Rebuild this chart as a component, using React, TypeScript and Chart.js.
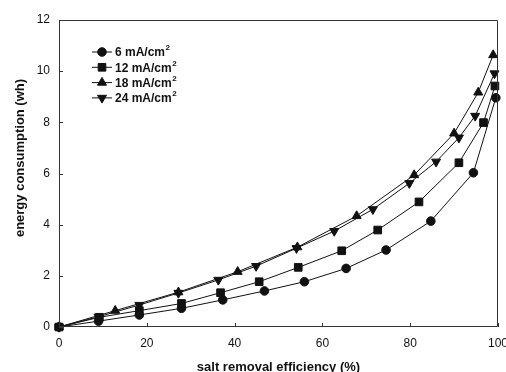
import { useEffect, useRef } from "react";
import { Chart, registerables } from "chart.js";
import { drawPoint } from "chart.js/helpers";

Chart.register(...registerables);

// Salt removal efficiency (%) and energy consumption (wh) per current density
const efficiency6 = [0, 9, 18.3, 27.9, 37.3, 46.8, 55.9, 65.4, 74.5, 84.7, 94.4, 99.5];
const energy6 = [0, 0.23, 0.47, 0.73, 1.06, 1.41, 1.77, 2.29, 3.01, 4.14, 6.03, 8.96];

const efficiency12 = [0, 9.2, 18.3, 27.9, 36.8, 45.6, 54.5, 64.4, 72.6, 82.0, 91.1, 96.7, 99.3];
const energy12 = [0, 0.38, 0.64, 0.92, 1.34, 1.77, 2.33, 2.98, 3.79, 4.89, 6.42, 7.99, 9.42];

const efficiency18 = [0, 12.8, 27.2, 40.7, 54.3, 67.8, 80.9, 90.0, 95.5, 98.9];
const energy18 = [0, 0.64, 1.36, 2.16, 3.12, 4.34, 5.94, 7.57, 9.17, 10.63];

const efficiency24 = [0, 9, 18.3, 27.2, 36.3, 44.9, 54.1, 62.7, 71.5, 79.8, 85.9, 91.1, 94.8, 99.2];
const energy24 = [0, 0.4, 0.86, 1.33, 1.84, 2.38, 3.08, 3.75, 4.6, 5.62, 6.46, 7.4, 8.25, 9.91];

const seriesLabels = ["6 mA/cm", "12 mA/cm", "18 mA/cm", "24 mA/cm"];
const xTicks = [0, 20, 40, 60, 80, 100];
const yTicks = [0, 2, 4, 6, 8, 10, 12];

const FONT = 'Arial, "Liberation Sans", Helvetica, sans-serif';
const INK = "#111";

const pairs = (xs: number[], ys: number[]) => xs.map((x, i) => ({ x, y: ys[i] }));

const markerStyles = [
  { pointStyle: "circle", radius: 4.3, rotation: 0 },
  { pointStyle: "rect", radius: 5.4, rotation: 0 },
  { pointStyle: "triangle", radius: 5.2, rotation: 0 },
  { pointStyle: "triangle", radius: 5.2, rotation: 180 },
];

// Frame, inward ticks, inset legend and the vertical axis title
const decorPlugin = {
  id: "decor",
  afterDraw(chart: any) {
    const { ctx, chartArea } = chart;
    const { left, right, top, bottom } = chartArea;
    const xs = chart.scales.x;
    const ys = chart.scales.y;
    ctx.save();
    ctx.strokeStyle = "#333";
    ctx.lineWidth = 1;
    ctx.beginPath();
    ctx.moveTo(left + 0.5, top + 0.5);
    ctx.lineTo(right - 0.5, top + 0.5);
    ctx.lineTo(right - 0.5, bottom - 0.5);
    ctx.lineTo(left + 0.5, bottom - 0.5);
    ctx.closePath();
    ctx.stroke();

    ctx.beginPath();
    xTicks.forEach((v) => {
      const px = Math.round(xs.getPixelForValue(v)) + 0.5;
      ctx.moveTo(px, bottom);
      ctx.lineTo(px, bottom - 4);
    });
    yTicks.forEach((v) => {
      const py = Math.round(ys.getPixelForValue(v)) + 0.5;
      ctx.moveTo(left, py);
      ctx.lineTo(left + 4, py);
    });
    ctx.stroke();

    // legend
    const lx = left + 33;
    const ly = top + 32;
    const rowH = 15.3;
    chart.data.datasets.forEach((ds: any, i: number) => {
      const y = ly + i * rowH;
      ctx.strokeStyle = INK;
      ctx.fillStyle = INK;
      ctx.lineWidth = 1;
      ctx.beginPath();
      ctx.moveTo(lx, y);
      ctx.lineTo(lx + 20, y);
      ctx.stroke();
      const m = markerStyles[i];
      drawPoint(ctx, { pointStyle: m.pointStyle, radius: m.radius, rotation: m.rotation, borderWidth: 1 }, lx + 10, y);
      ctx.font = `bold 12px ${FONT}`;
      ctx.textBaseline = "middle";
      ctx.textAlign = "left";
      ctx.fillText(ds.label, lx + 23, y + 1);
      const w = ctx.measureText(ds.label).width;
      ctx.font = `bold 8px ${FONT}`;
      ctx.fillText("2", lx + 23 + w + 0.5, y - 4);
    });

    // y axis title
    ctx.translate(20.5, 158);
    ctx.rotate(-Math.PI / 2);
    ctx.font = `bold 13px ${FONT}`;
    ctx.fillStyle = INK;
    ctx.textAlign = "center";
    ctx.textBaseline = "middle";
    ctx.fillText("energy consumption (wh)", 0, 0);
    ctx.restore();
  },
};

export default function App() {
  const canvasRef = useRef<HTMLCanvasElement | null>(null);

  useEffect(() => {
    const canvas = canvasRef.current;
    if (!canvas) return;
    const sets = [
      pairs(efficiency6, energy6),
      pairs(efficiency12, energy12),
      pairs(efficiency18, energy18),
      pairs(efficiency24, energy24),
    ];
    const chart = new Chart(canvas, {
      type: "line",
      data: {
        datasets: sets.map((data, i) => ({
          label: seriesLabels[i],
          data,
          borderColor: INK,
          backgroundColor: INK,
          borderWidth: 1,
          tension: 0,
          pointStyle: markerStyles[i].pointStyle as any,
          pointRadius: markerStyles[i].radius,
          pointRotation: markerStyles[i].rotation,
          pointBackgroundColor: INK,
          pointBorderColor: INK,
          pointBorderWidth: 1,
          clip: false as any,
        })),
      },
      options: {
        animation: false,
        responsive: false,
        devicePixelRatio: 1,
        layout: { padding: { top: 20, right: 8, left: 0, bottom: 0 } },
        plugins: {
          legend: { display: false },
          tooltip: { enabled: false },
        },
        scales: {
          x: {
            type: "linear",
            min: 0,
            max: 100,
            afterBuildTicks: (s: any) => {
              s.ticks = xTicks.map((value) => ({ value }));
            },
            afterFit: (s: any) => {
              s.height = 45;
              s.paddingLeft = 0;
              s.paddingRight = 0;
            },
            grid: { display: false, drawTicks: false },
            border: { display: false },
            ticks: {
              padding: 9,
              color: INK,
              font: { family: FONT, size: 12 },
              maxRotation: 0,
              autoSkip: false,
            },
            title: {
              display: true,
              text: "salt removal efficiency (%)",
              color: INK,
              font: { family: FONT, size: 13, weight: "bold" },
              padding: { top: 0, bottom: -3.5 },
            },
          },
          y: {
            type: "linear",
            min: 0,
            max: 12,
            afterBuildTicks: (s: any) => {
              s.ticks = yTicks.map((value) => ({ value }));
            },
            afterFit: (s: any) => {
              s.width = 59;
              s.paddingTop = 0;
              s.paddingBottom = 0;
            },
            grid: { display: false, drawTicks: false },
            border: { display: false },
            ticks: {
              padding: 9,
              color: INK,
              font: { family: FONT, size: 12 },
              autoSkip: false,
            },
          },
        },
      },
      plugins: [decorPlugin],
    });
    return () => chart.destroy();
  }, []);

  return (
    <div style={{ position: "absolute", left: 0, top: 0, width: 506, height: 372, background: "#fff" }}>
      <canvas ref={canvasRef} width={506} height={372} style={{ display: "block" }} />
    </div>
  );
}
